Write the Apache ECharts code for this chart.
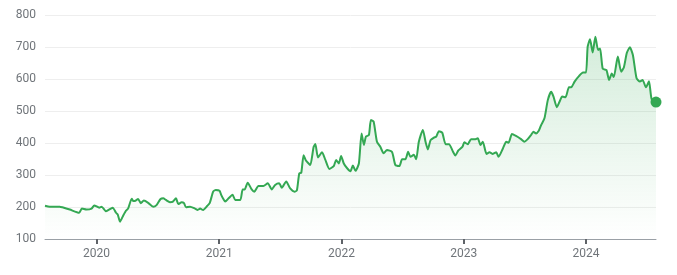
<!DOCTYPE html>
<html>
<head>
<meta charset="utf-8">
<script src="https://cdn.jsdelivr.net/npm/echarts@6/dist/echarts.min.js"></script>
<style>
  html, body { margin: 0; padding: 0; background: #fff; }
  #chart { width: 677px; height: 275px; }
</style>
</head>
<body>
<div id="chart"></div>
<script>
// price history
const dates = [
  '2019-07-31', '2019-08-14', '2019-09-13', '2019-09-21', '2019-10-13', '2019-11-10', '2019-11-18',
  '2019-12-02', '2019-12-17', '2019-12-25', '2020-01-09', '2020-01-16', '2020-01-29', '2020-02-18',
  '2020-02-28', '2020-03-04', '2020-03-11', '2020-03-19', '2020-03-29', '2020-04-04', '2020-04-15',
  '2020-04-18', '2020-04-24', '2020-05-04', '2020-05-12', '2020-05-21', '2020-06-03', '2020-06-18',
  '2020-06-28', '2020-07-10', '2020-07-18', '2020-07-26', '2020-08-07', '2020-08-15', '2020-08-25',
  '2020-09-01', '2020-09-11', '2020-09-18', '2020-09-24', '2020-10-06', '2020-10-21', '2020-10-29',
  '2020-11-05', '2020-11-14', '2020-11-26', '2020-12-04', '2020-12-14', '2020-12-22', '2021-01-02',
  '2021-01-07', '2021-01-14', '2021-01-19', '2021-01-29', '2021-02-10', '2021-02-18', '2021-03-05',
  '2021-03-12', '2021-03-18', '2021-03-27', '2021-04-08', '2021-04-16', '2021-04-28', '2021-05-13',
  '2021-05-26', '2021-06-07', '2021-06-17', '2021-06-29', '2021-07-07', '2021-07-20', '2021-08-01',
  '2021-08-14', '2021-08-21', '2021-08-28', '2021-09-03', '2021-09-10', '2021-09-17', '2021-09-25',
  '2021-09-30', '2021-10-10', '2021-10-15', '2021-10-23', '2021-11-04', '2021-11-14', '2021-11-26',
  '2021-12-09', '2021-12-16', '2021-12-24', '2021-12-31', '2022-01-08', '2022-01-18', '2022-01-28',
  '2022-02-04', '2022-02-12', '2022-02-22', '2022-03-02', '2022-03-09', '2022-03-15', '2022-03-24',
  '2022-03-30', '2022-04-07', '2022-04-17', '2022-04-27', '2022-05-07', '2022-05-17', '2022-06-01',
  '2022-06-11', '2022-06-23', '2022-07-01', '2022-07-11', '2022-07-19', '2022-07-26', '2022-08-05',
  '2022-08-12', '2022-08-20', '2022-09-01', '2022-09-09', '2022-09-16', '2022-09-24', '2022-10-04',
  '2022-10-11', '2022-10-19', '2022-10-29', '2022-11-08', '2022-11-18', '2022-11-30', '2022-12-07',
  '2022-12-16', '2022-12-28', '2023-01-03', '2023-01-13', '2023-01-23', '2023-02-05', '2023-02-12',
  '2023-02-20', '2023-02-27', '2023-03-10', '2023-03-19', '2023-03-29', '2023-04-08', '2023-04-15',
  '2023-04-28', '2023-05-08', '2023-05-15', '2023-05-25', '2023-06-06', '2023-06-21', '2023-07-01',
  '2023-07-11', '2023-07-21', '2023-07-28', '2023-08-05', '2023-08-13', '2023-08-20', '2023-08-30',
  '2023-09-09', '2023-09-19', '2023-09-26', '2023-10-06', '2023-10-14', '2023-10-22', '2023-11-01',
  '2023-11-11', '2023-11-18', '2023-11-28', '2023-12-11', '2023-12-23', '2024-01-01', '2024-01-06',
  '2024-01-13', '2024-01-21', '2024-01-29', '2024-02-06', '2024-02-12', '2024-02-20', '2024-03-02',
  '2024-03-10', '2024-03-18', '2024-03-24', '2024-04-05', '2024-04-15', '2024-04-23', '2024-05-02',
  '2024-05-11', '2024-05-20', '2024-05-31', '2024-06-10', '2024-06-18', '2024-06-28', '2024-07-07',
  '2024-07-15', '2024-07-28'
];
const prices = [
  204, 201, 201, 199, 192, 182, 195,
  192, 195, 205, 198, 201, 187, 198,
  182, 177, 154, 170, 189, 195, 226,
  220, 219, 225, 212, 220, 213, 201,
  206, 225, 227, 222, 215, 216, 227,
  209, 215, 212, 199, 201, 195, 191,
  195, 191, 203, 213, 248, 253, 251,
  238, 224, 217, 227, 238, 222, 222,
  255, 255, 276, 255, 248, 266, 266,
  274, 255, 269, 274, 260, 280, 258,
  248, 252, 305, 307, 362, 345, 336,
  331, 388, 397, 355, 371, 347, 319,
  328, 347, 336, 359, 336, 321, 312,
  330, 313, 336, 430, 394, 420, 425,
  472, 467, 404, 388, 368, 378, 372,
  331, 328, 349, 349, 373, 357, 363,
  349, 404, 441, 404, 380, 409, 417,
  420, 437, 432, 396, 396, 373, 361,
  377, 388, 402, 396, 412, 412, 415,
  394, 404, 366, 371, 366, 371, 357,
  383, 404, 401, 428, 422, 412, 404,
  412, 425, 435, 430, 438, 456, 477,
  534, 560, 545, 512, 529, 545, 543,
  574, 574, 592, 609, 620, 620, 701,
  724, 683, 732, 691, 695, 632, 628,
  597, 617, 606, 670, 623, 636, 682,
  699, 675, 602, 592, 597, 574, 593,
  537, 528
];
const yTicks = [100, 200, 300, 400, 500, 600, 700, 800];

const green = '#34a853';
const series = dates.map((d, i) => [d, prices[i]]);
const last = series[series.length - 1];

const chart = echarts.init(document.getElementById('chart'), null, { renderer: 'canvas' });

chart.setOption({
  animation: false,
  textStyle: { fontFamily: 'Roboto, Arial, sans-serif' },
  grid: { left: 45, right: 21, top: 15, bottom: 36 },
  xAxis: {
    type: 'time',
    min: dates[0],
    max: dates[dates.length - 1],
    minInterval: 365 * 24 * 3600 * 1000,
    maxInterval: 366 * 24 * 3600 * 1000,
    axisLine: { lineStyle: { color: '#9aa0a6', width: 1 } },
    axisTick: { show: true, length: 5, lineStyle: { color: '#5f6368', width: 2 } },
    axisLabel: {
      color: '#70757a',
      fontSize: 12,
      margin: 9,
      showMinLabel: false,
      showMaxLabel: false,
      formatter: '{yyyy}'
    },
    splitLine: { show: false }
  },
  yAxis: {
    type: 'value',
    min: yTicks[0],
    max: yTicks[yTicks.length - 1],
    interval: 100,
    axisLine: { show: false },
    axisTick: { show: false },
    axisLabel: { color: '#70757a', fontSize: 12, margin: 9 },
    splitLine: { lineStyle: { color: '#eeeeee', width: 1 } }
  },
  series: [
    {
      type: 'line',
      data: series,
      showSymbol: false,
      smooth: 0.2,
      lineStyle: { color: green, width: 2 },
      areaStyle: {
        color: new echarts.graphic.LinearGradient(0, 0, 0, 1, [
          { offset: 0, color: 'rgba(52,168,83,0.3)' },
          { offset: 1, color: 'rgba(52,168,83,0)' }
        ])
      }
    },
    {
      type: 'scatter',
      data: [last],
      symbolSize: 11,
      itemStyle: { color: green, opacity: 1 },
      z: 5
    }
  ]
});
</script>
</body>
</html>
